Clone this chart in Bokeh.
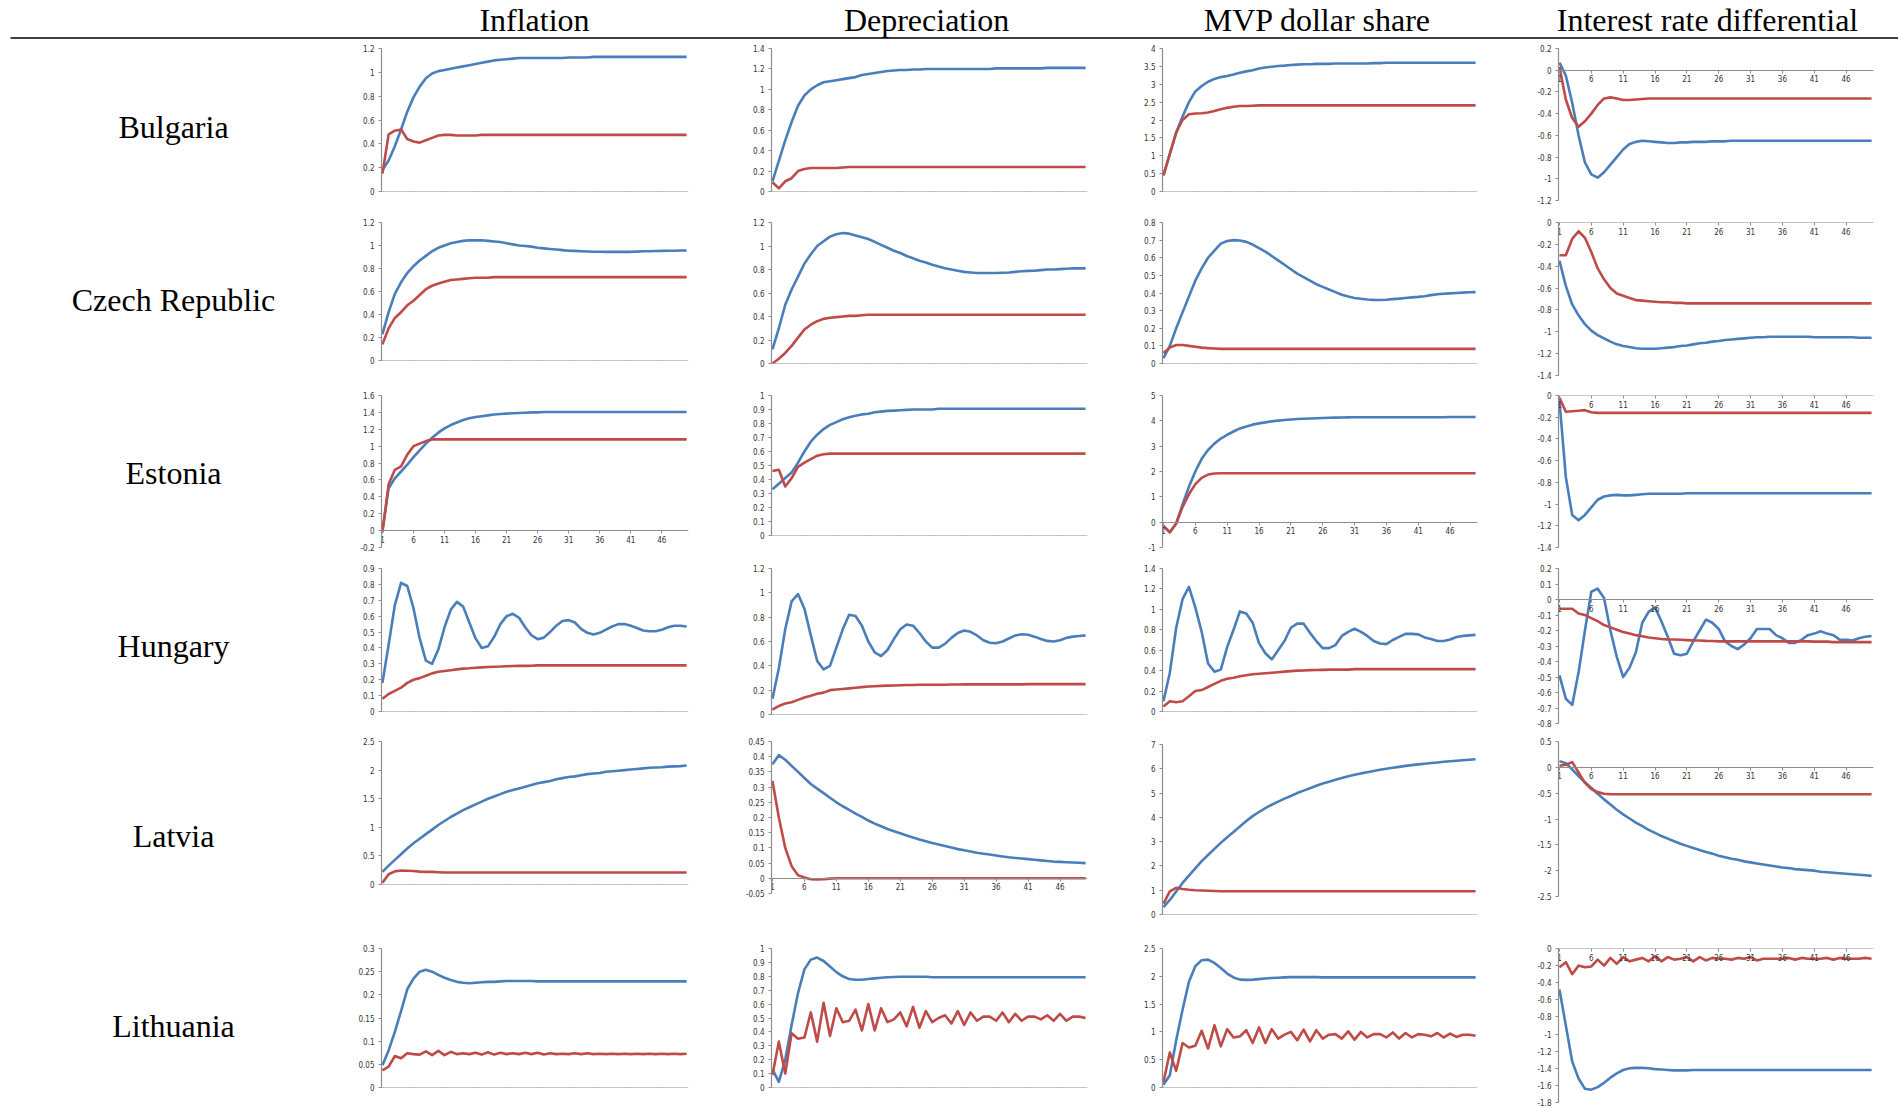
from bokeh.plotting import figure
from bokeh.layouts import column, row
from bokeh.models import Range1d, FixedTicker, CustomJSTickFormatter
from bokeh.core.properties import value
from bokeh.embed import file_html
from bokeh.resources import INLINE

COUNTRIES = ["Bulgaria", "Czech Republic", "Estonia", "Hungary", "Latvia", "Lithuania"]
VARIABLES = ["Inflation", "Depreciation", "MVP dollar share", "Interest rate differential"]
PERIODS = list(range(1, 51))
X_TICKS = [1, 6, 11, 16, 21, 26, 31, 36, 41, 46]

# y-axis limits and tick steps (rows: countries, columns: variables)
Y_MIN = [[0, 0, 0, -1.2], [0, 0, 0, -1.4], [-0.2, 0, -1, -1.4],
         [0, 0, 0, -0.8], [0, -0.05, 0, -2.5], [0, 0, 0, -1.8]]
Y_MAX = [[1.2, 1.4, 4, 0.2], [1.2, 1.2, 0.8, 0], [1.6, 1, 5, 0],
         [0.9, 1.2, 1.4, 0.2], [2.5, 0.45, 7, 0.5], [0.3, 1, 2.5, 0]]
Y_STEP = [[0.2, 0.2, 0.5, 0.2], [0.2, 0.2, 0.1, 0.2], [0.2, 0.1, 1, 0.2],
          [0.1, 0.2, 0.2, 0.1], [0.5, 0.05, 1, 0.5], [0.05, 0.1, 0.5, 0.2]]

# ---------------- Bulgaria ----------------
bulgaria_inflation_blue = [0.18, 0.26, 0.38, 0.52, 0.67, 0.79, 0.88, 0.95, 0.99, 1.01,
    1.02, 1.03, 1.04, 1.05, 1.06, 1.07, 1.08, 1.09, 1.10, 1.105,
    1.11, 1.115, 1.12, 1.12, 1.12, 1.12, 1.12, 1.12, 1.12, 1.12,
    1.125, 1.125, 1.125, 1.125, 1.13, 1.13, 1.13, 1.13, 1.13, 1.13,
    1.13, 1.13, 1.13, 1.13, 1.13, 1.13, 1.13, 1.13, 1.13, 1.13]
bulgaria_inflation_red = [0.15, 0.48, 0.51, 0.52, 0.44, 0.42, 0.41, 0.43, 0.45, 0.47,
    0.475, 0.475, 0.47, 0.47, 0.47, 0.47, 0.475, 0.475, 0.475, 0.475,
    0.475, 0.475, 0.475, 0.475, 0.475, 0.475, 0.475, 0.475, 0.475, 0.475,
    0.475, 0.475, 0.475, 0.475, 0.475, 0.475, 0.475, 0.475, 0.475, 0.475,
    0.475, 0.475, 0.475, 0.475, 0.475, 0.475, 0.475, 0.475, 0.475, 0.475]
bulgaria_depreciation_blue = [0.10, 0.30, 0.50, 0.68, 0.84, 0.94, 1.00, 1.04, 1.07, 1.08,
    1.09, 1.10, 1.11, 1.12, 1.14, 1.15, 1.16, 1.17, 1.18, 1.185,
    1.19, 1.19, 1.195, 1.195, 1.20, 1.20, 1.20, 1.20, 1.20, 1.20,
    1.20, 1.20, 1.20, 1.20, 1.20, 1.205, 1.205, 1.205, 1.205, 1.205,
    1.205, 1.205, 1.205, 1.21, 1.21, 1.21, 1.21, 1.21, 1.21, 1.21]
bulgaria_depreciation_red = [0.09, 0.03, 0.10, 0.13, 0.20, 0.22, 0.23, 0.23, 0.23, 0.23,
    0.23, 0.235, 0.24, 0.24, 0.24, 0.24, 0.24, 0.24, 0.24, 0.24,
    0.24, 0.24, 0.24, 0.24, 0.24, 0.24, 0.24, 0.24, 0.24, 0.24,
    0.24, 0.24, 0.24, 0.24, 0.24, 0.24, 0.24, 0.24, 0.24, 0.24,
    0.24, 0.24, 0.24, 0.24, 0.24, 0.24, 0.24, 0.24, 0.24, 0.24]
bulgaria_mvp_blue = [0.45, 1.05, 1.65, 2.10, 2.50, 2.80, 2.95, 3.07, 3.15, 3.20,
    3.23, 3.27, 3.32, 3.36, 3.39, 3.44, 3.47, 3.49, 3.51, 3.52,
    3.54, 3.55, 3.56, 3.56, 3.57, 3.57, 3.57, 3.58, 3.58, 3.58,
    3.58, 3.58, 3.58, 3.59, 3.59, 3.60, 3.60, 3.60, 3.60, 3.60,
    3.60, 3.60, 3.60, 3.60, 3.60, 3.60, 3.60, 3.60, 3.60, 3.60]
bulgaria_mvp_red = [0.45, 1.05, 1.65, 2.00, 2.16, 2.18, 2.19, 2.21, 2.25, 2.30,
    2.34, 2.37, 2.39, 2.39, 2.40, 2.41, 2.41, 2.41, 2.41, 2.41,
    2.41, 2.41, 2.41, 2.41, 2.41, 2.41, 2.41, 2.41, 2.41, 2.41,
    2.41, 2.41, 2.41, 2.41, 2.41, 2.41, 2.41, 2.41, 2.41, 2.41,
    2.41, 2.41, 2.41, 2.41, 2.41, 2.41, 2.41, 2.41, 2.41, 2.41]
bulgaria_ird_blue = [0.07, -0.05, -0.30, -0.60, -0.85, -0.96, -0.99, -0.94, -0.87, -0.80,
    -0.73, -0.68, -0.66, -0.65, -0.655, -0.66, -0.665, -0.67, -0.67, -0.665,
    -0.665, -0.66, -0.66, -0.66, -0.655, -0.655, -0.655, -0.65, -0.65, -0.65,
    -0.65, -0.65, -0.65, -0.65, -0.65, -0.65, -0.65, -0.65, -0.65, -0.65,
    -0.65, -0.65, -0.65, -0.65, -0.65, -0.65, -0.65, -0.65, -0.65, -0.65]
bulgaria_ird_red = [0.03, -0.27, -0.44, -0.52, -0.47, -0.40, -0.32, -0.26, -0.25, -0.26,
    -0.275, -0.275, -0.27, -0.265, -0.26, -0.26, -0.26, -0.26, -0.26, -0.26,
    -0.26, -0.26, -0.26, -0.26, -0.26, -0.26, -0.26, -0.26, -0.26, -0.26,
    -0.26, -0.26, -0.26, -0.26, -0.26, -0.26, -0.26, -0.26, -0.26, -0.26,
    -0.26, -0.26, -0.26, -0.26, -0.26, -0.26, -0.26, -0.26, -0.26, -0.26]

# ---------------- Czech Republic ----------------
czech_inflation_blue = [0.23, 0.42, 0.58, 0.68, 0.76, 0.82, 0.87, 0.91, 0.95, 0.98,
    1.00, 1.02, 1.03, 1.04, 1.045, 1.045, 1.045, 1.04, 1.035, 1.03,
    1.02, 1.01, 1.00, 0.995, 0.99, 0.98, 0.975, 0.97, 0.965, 0.96,
    0.955, 0.953, 0.95, 0.948, 0.946, 0.945, 0.945, 0.945, 0.945, 0.945,
    0.945, 0.947, 0.95, 0.95, 0.952, 0.953, 0.955, 0.955, 0.957, 0.957]
czech_inflation_red = [0.14, 0.28, 0.37, 0.42, 0.48, 0.52, 0.57, 0.62, 0.65, 0.67,
    0.685, 0.70, 0.705, 0.71, 0.715, 0.72, 0.72, 0.72, 0.725, 0.725,
    0.725, 0.725, 0.725, 0.725, 0.725, 0.725, 0.725, 0.725, 0.725, 0.725,
    0.725, 0.725, 0.725, 0.725, 0.725, 0.725, 0.725, 0.725, 0.725, 0.725,
    0.725, 0.725, 0.725, 0.725, 0.725, 0.725, 0.725, 0.725, 0.725, 0.725]
czech_depreciation_blue = [0.12, 0.30, 0.50, 0.63, 0.74, 0.85, 0.93, 1.00, 1.04, 1.08,
    1.10, 1.11, 1.105, 1.09, 1.075, 1.06, 1.035, 1.01, 0.985, 0.96,
    0.94, 0.915, 0.895, 0.875, 0.86, 0.84, 0.825, 0.81, 0.80, 0.79,
    0.78, 0.775, 0.77, 0.77, 0.77, 0.77, 0.772, 0.775, 0.78, 0.785,
    0.788, 0.79, 0.795, 0.80, 0.80, 0.803, 0.806, 0.81, 0.81, 0.81]
czech_depreciation_red = [0.00, 0.04, 0.09, 0.15, 0.22, 0.29, 0.33, 0.36, 0.38, 0.39,
    0.395, 0.40, 0.405, 0.405, 0.41, 0.415, 0.415, 0.415, 0.415, 0.415,
    0.415, 0.415, 0.415, 0.415, 0.415, 0.415, 0.415, 0.415, 0.415, 0.415,
    0.415, 0.415, 0.415, 0.415, 0.415, 0.415, 0.415, 0.415, 0.415, 0.415,
    0.415, 0.415, 0.415, 0.415, 0.415, 0.415, 0.415, 0.415, 0.415, 0.415]
czech_mvp_blue = [0.03, 0.10, 0.20, 0.29, 0.38, 0.47, 0.54, 0.60, 0.64, 0.68,
    0.695, 0.70, 0.698, 0.69, 0.675, 0.655, 0.635, 0.61, 0.585, 0.56,
    0.535, 0.51, 0.49, 0.47, 0.45, 0.435, 0.42, 0.405, 0.39, 0.38,
    0.372, 0.367, 0.363, 0.361, 0.36, 0.362, 0.365, 0.368, 0.372, 0.375,
    0.378, 0.382, 0.388, 0.393, 0.396, 0.398, 0.40, 0.402, 0.404, 0.405]
czech_mvp_red = [0.06, 0.09, 0.105, 0.105, 0.10, 0.095, 0.09, 0.087, 0.085, 0.083,
    0.083, 0.083, 0.083, 0.083, 0.083, 0.083, 0.083, 0.083, 0.083, 0.083,
    0.083, 0.083, 0.083, 0.083, 0.083, 0.083, 0.083, 0.083, 0.083, 0.083,
    0.083, 0.083, 0.083, 0.083, 0.083, 0.083, 0.083, 0.083, 0.083, 0.083,
    0.083, 0.083, 0.083, 0.083, 0.083, 0.083, 0.083, 0.083, 0.083, 0.083]
czech_ird_blue = [-0.35, -0.58, -0.75, -0.85, -0.93, -0.99, -1.03, -1.06, -1.09, -1.115,
    -1.13, -1.14, -1.15, -1.155, -1.155, -1.155, -1.15, -1.145, -1.14, -1.13,
    -1.125, -1.115, -1.105, -1.10, -1.09, -1.085, -1.075, -1.07, -1.065, -1.06,
    -1.055, -1.05, -1.05, -1.045, -1.045, -1.045, -1.045, -1.045, -1.045, -1.045,
    -1.05, -1.05, -1.05, -1.05, -1.05, -1.05, -1.05, -1.055, -1.055, -1.055]
czech_ird_red = [-0.30, -0.30, -0.15, -0.08, -0.14, -0.27, -0.42, -0.52, -0.60, -0.65,
    -0.67, -0.69, -0.71, -0.715, -0.72, -0.725, -0.73, -0.73, -0.735, -0.735,
    -0.74, -0.74, -0.74, -0.74, -0.74, -0.74, -0.74, -0.74, -0.74, -0.74,
    -0.74, -0.74, -0.74, -0.74, -0.74, -0.74, -0.74, -0.74, -0.74, -0.74,
    -0.74, -0.74, -0.74, -0.74, -0.74, -0.74, -0.74, -0.74, -0.74, -0.74]

# ---------------- Estonia ----------------
estonia_inflation_blue = [0.00, 0.50, 0.62, 0.70, 0.78, 0.87, 0.95, 1.03, 1.10, 1.16,
    1.21, 1.25, 1.28, 1.31, 1.33, 1.345, 1.355, 1.365, 1.375, 1.38,
    1.385, 1.39, 1.393, 1.396, 1.40, 1.40, 1.405, 1.405, 1.405, 1.405,
    1.405, 1.405, 1.405, 1.405, 1.405, 1.405, 1.405, 1.405, 1.405, 1.405,
    1.405, 1.405, 1.405, 1.405, 1.405, 1.405, 1.405, 1.405, 1.405, 1.405]
estonia_inflation_red = [-0.02, 0.55, 0.72, 0.76, 0.90, 1.00, 1.03, 1.06, 1.08, 1.08,
    1.08, 1.08, 1.08, 1.08, 1.08, 1.08, 1.08, 1.08, 1.08, 1.08,
    1.08, 1.08, 1.08, 1.08, 1.08, 1.08, 1.08, 1.08, 1.08, 1.08,
    1.08, 1.08, 1.08, 1.08, 1.08, 1.08, 1.08, 1.08, 1.08, 1.08,
    1.08, 1.08, 1.08, 1.08, 1.08, 1.08, 1.08, 1.08, 1.08, 1.08]
estonia_depreciation_blue = [0.33, 0.37, 0.41, 0.45, 0.52, 0.60, 0.67, 0.72, 0.76, 0.79,
    0.81, 0.83, 0.845, 0.855, 0.865, 0.87, 0.88, 0.885, 0.89, 0.892,
    0.895, 0.897, 0.90, 0.90, 0.90, 0.90, 0.905, 0.905, 0.905, 0.905,
    0.905, 0.905, 0.905, 0.905, 0.905, 0.905, 0.905, 0.905, 0.905, 0.905,
    0.905, 0.905, 0.905, 0.905, 0.905, 0.905, 0.905, 0.905, 0.905, 0.905]
estonia_depreciation_red = [0.46, 0.47, 0.35, 0.41, 0.49, 0.52, 0.545, 0.57, 0.58, 0.585,
    0.585, 0.585, 0.585, 0.585, 0.585, 0.585, 0.585, 0.585, 0.585, 0.585,
    0.585, 0.585, 0.585, 0.585, 0.585, 0.585, 0.585, 0.585, 0.585, 0.585,
    0.585, 0.585, 0.585, 0.585, 0.585, 0.585, 0.585, 0.585, 0.585, 0.585,
    0.585, 0.585, 0.585, 0.585, 0.585, 0.585, 0.585, 0.585, 0.585, 0.585]
estonia_mvp_blue = [-0.15, -0.40, -0.05, 0.70, 1.40, 2.00, 2.50, 2.85, 3.10, 3.30,
    3.45, 3.58, 3.70, 3.78, 3.85, 3.90, 3.94, 3.98, 4.01, 4.03,
    4.05, 4.07, 4.08, 4.09, 4.10, 4.11, 4.12, 4.125, 4.13, 4.135,
    4.14, 4.14, 4.14, 4.14, 4.14, 4.14, 4.14, 4.14, 4.14, 4.14,
    4.14, 4.14, 4.14, 4.14, 4.14, 4.15, 4.15, 4.15, 4.15, 4.15]
estonia_mvp_red = [-0.15, -0.40, -0.05, 0.60, 1.10, 1.50, 1.75, 1.88, 1.92, 1.93,
    1.93, 1.93, 1.93, 1.93, 1.93, 1.93, 1.93, 1.93, 1.93, 1.93,
    1.93, 1.93, 1.93, 1.93, 1.93, 1.93, 1.93, 1.93, 1.93, 1.93,
    1.93, 1.93, 1.93, 1.93, 1.93, 1.93, 1.93, 1.93, 1.93, 1.93,
    1.93, 1.93, 1.93, 1.93, 1.93, 1.93, 1.93, 1.93, 1.93, 1.93]
estonia_ird_blue = [-0.05, -0.75, -1.10, -1.15, -1.10, -1.03, -0.96, -0.93, -0.92, -0.915,
    -0.92, -0.92, -0.915, -0.91, -0.905, -0.905, -0.905, -0.905, -0.905, -0.905,
    -0.90, -0.90, -0.90, -0.90, -0.90, -0.90, -0.90, -0.90, -0.90, -0.90,
    -0.90, -0.90, -0.90, -0.90, -0.90, -0.90, -0.90, -0.90, -0.90, -0.90,
    -0.90, -0.90, -0.90, -0.90, -0.90, -0.90, -0.90, -0.90, -0.90, -0.90]
estonia_ird_red = [-0.02, -0.15, -0.145, -0.14, -0.135, -0.155, -0.16, -0.16, -0.16, -0.16,
    -0.16, -0.16, -0.16, -0.16, -0.16, -0.16, -0.16, -0.16, -0.16, -0.16,
    -0.16, -0.16, -0.16, -0.16, -0.16, -0.16, -0.16, -0.16, -0.16, -0.16,
    -0.16, -0.16, -0.16, -0.16, -0.16, -0.16, -0.16, -0.16, -0.16, -0.16,
    -0.16, -0.16, -0.16, -0.16, -0.16, -0.16, -0.16, -0.16, -0.16, -0.16]

# ---------------- Hungary ----------------
hungary_inflation_blue = [0.18, 0.42, 0.67, 0.81, 0.79, 0.65, 0.46, 0.32, 0.30, 0.39,
    0.53, 0.64, 0.69, 0.66, 0.56, 0.46, 0.40, 0.41, 0.47, 0.55,
    0.60, 0.615, 0.59, 0.53, 0.48, 0.455, 0.465, 0.50, 0.54, 0.57,
    0.575, 0.56, 0.52, 0.495, 0.485, 0.495, 0.515, 0.535, 0.55, 0.55,
    0.54, 0.525, 0.51, 0.505, 0.505, 0.515, 0.53, 0.54, 0.54, 0.535]
hungary_inflation_red = [0.08, 0.11, 0.13, 0.15, 0.18, 0.20, 0.21, 0.225, 0.24, 0.25,
    0.255, 0.26, 0.265, 0.27, 0.272, 0.275, 0.278, 0.28, 0.282, 0.283,
    0.285, 0.286, 0.287, 0.287, 0.288, 0.29, 0.29, 0.29, 0.29, 0.29,
    0.29, 0.29, 0.29, 0.29, 0.29, 0.29, 0.29, 0.29, 0.29, 0.29,
    0.29, 0.29, 0.29, 0.29, 0.29, 0.29, 0.29, 0.29, 0.29, 0.29]
hungary_depreciation_blue = [0.13, 0.38, 0.70, 0.93, 0.99, 0.87, 0.65, 0.44, 0.37, 0.40,
    0.55, 0.70, 0.82, 0.81, 0.73, 0.60, 0.51, 0.48, 0.53, 0.62,
    0.70, 0.74, 0.73, 0.67, 0.60, 0.55, 0.55, 0.58, 0.63, 0.67,
    0.69, 0.68, 0.65, 0.61, 0.59, 0.585, 0.60, 0.625, 0.65, 0.66,
    0.655, 0.64, 0.62, 0.605, 0.60, 0.61, 0.63, 0.64, 0.645, 0.65]
hungary_depreciation_red = [0.04, 0.07, 0.09, 0.10, 0.12, 0.14, 0.155, 0.17, 0.18, 0.20,
    0.205, 0.21, 0.215, 0.22, 0.225, 0.23, 0.232, 0.235, 0.237, 0.238,
    0.24, 0.242, 0.243, 0.244, 0.245, 0.245, 0.245, 0.245, 0.247, 0.247,
    0.248, 0.248, 0.248, 0.248, 0.248, 0.248, 0.248, 0.248, 0.248, 0.248,
    0.25, 0.25, 0.25, 0.25, 0.25, 0.25, 0.25, 0.25, 0.25, 0.25]
hungary_mvp_blue = [0.10, 0.38, 0.82, 1.10, 1.22, 1.02, 0.78, 0.47, 0.39, 0.41,
    0.63, 0.80, 0.98, 0.96, 0.87, 0.67, 0.57, 0.51, 0.60, 0.69,
    0.82, 0.86, 0.86, 0.77, 0.69, 0.62, 0.62, 0.65, 0.74, 0.78,
    0.81, 0.78, 0.74, 0.69, 0.665, 0.66, 0.70, 0.73, 0.76, 0.76,
    0.755, 0.725, 0.71, 0.69, 0.69, 0.705, 0.73, 0.74, 0.745, 0.75]
hungary_mvp_red = [0.05, 0.10, 0.09, 0.10, 0.15, 0.20, 0.21, 0.24, 0.27, 0.30,
    0.32, 0.33, 0.345, 0.355, 0.365, 0.37, 0.375, 0.38, 0.385, 0.39,
    0.395, 0.40, 0.402, 0.405, 0.407, 0.408, 0.41, 0.41, 0.41, 0.41,
    0.415, 0.415, 0.415, 0.415, 0.415, 0.415, 0.415, 0.415, 0.415, 0.415,
    0.415, 0.415, 0.415, 0.415, 0.415, 0.415, 0.415, 0.415, 0.415, 0.415]
hungary_ird_blue = [-0.49, -0.64, -0.68, -0.47, -0.20, 0.05, 0.07, 0.01, -0.20, -0.37,
    -0.50, -0.44, -0.34, -0.15, -0.08, -0.05, -0.14, -0.24, -0.35, -0.36,
    -0.35, -0.27, -0.20, -0.13, -0.15, -0.19, -0.27, -0.30, -0.32, -0.29,
    -0.25, -0.19, -0.19, -0.19, -0.23, -0.25, -0.28, -0.28, -0.26, -0.23,
    -0.22, -0.205, -0.22, -0.23, -0.26, -0.26, -0.265, -0.25, -0.24, -0.235]
hungary_ird_red = [-0.06, -0.06, -0.06, -0.09, -0.10, -0.12, -0.14, -0.165, -0.18, -0.195,
    -0.21, -0.22, -0.23, -0.237, -0.245, -0.25, -0.255, -0.257, -0.258, -0.26,
    -0.262, -0.264, -0.265, -0.267, -0.268, -0.27, -0.27, -0.27, -0.27, -0.27,
    -0.27, -0.27, -0.27, -0.27, -0.27, -0.27, -0.27, -0.27, -0.27, -0.27,
    -0.272, -0.272, -0.272, -0.275, -0.275, -0.275, -0.275, -0.275, -0.275, -0.275]

# ---------------- Latvia ----------------
latvia_inflation_blue = [0.22, 0.33, 0.43, 0.53, 0.63, 0.72, 0.80, 0.88, 0.96, 1.04,
    1.11, 1.18, 1.24, 1.30, 1.35, 1.40, 1.45, 1.50, 1.54, 1.58,
    1.62, 1.65, 1.68, 1.71, 1.74, 1.77, 1.79, 1.81, 1.84, 1.86,
    1.88, 1.89, 1.91, 1.93, 1.94, 1.95, 1.97, 1.98, 1.99, 2.00,
    2.01, 2.02, 2.03, 2.04, 2.045, 2.05, 2.06, 2.065, 2.07, 2.08]
latvia_inflation_red = [0.03, 0.18, 0.23, 0.245, 0.24, 0.235, 0.225, 0.22, 0.22, 0.215,
    0.21, 0.21, 0.21, 0.21, 0.21, 0.21, 0.21, 0.21, 0.21, 0.21,
    0.21, 0.21, 0.21, 0.21, 0.21, 0.21, 0.21, 0.21, 0.21, 0.21,
    0.21, 0.21, 0.21, 0.21, 0.21, 0.21, 0.21, 0.21, 0.21, 0.21,
    0.21, 0.21, 0.21, 0.21, 0.21, 0.21, 0.21, 0.21, 0.21, 0.21]
latvia_depreciation_blue = [0.375, 0.405, 0.39, 0.37, 0.35, 0.33, 0.31, 0.295, 0.28, 0.265,
    0.25, 0.237, 0.225, 0.213, 0.202, 0.19, 0.18, 0.171, 0.162, 0.155,
    0.148, 0.141, 0.134, 0.128, 0.122, 0.116, 0.111, 0.106, 0.101, 0.096,
    0.092, 0.088, 0.084, 0.081, 0.078, 0.075, 0.072, 0.069, 0.067, 0.065,
    0.063, 0.061, 0.059, 0.057, 0.055, 0.054, 0.053, 0.052, 0.051, 0.050]
latvia_depreciation_red = [0.32, 0.20, 0.10, 0.04, 0.01, 0.003, -0.003, -0.004, -0.003, -0.001,
    0.0, 0.0, 0.0, 0.0, 0.0, 0.0, 0.0, 0.0, 0.0, 0.0,
    0.0, 0.0, 0.0, 0.0, 0.0, 0.0, 0.0, 0.0, 0.0, 0.0,
    0.0, 0.0, 0.0, 0.0, 0.0, 0.0, 0.0, 0.0, 0.0, 0.0,
    0.0, 0.0, 0.0, 0.0, 0.0, 0.0, 0.0, 0.0, 0.0, 0.0]
latvia_mvp_blue = [0.30, 0.60, 0.95, 1.30, 1.60, 1.90, 2.20, 2.45, 2.70, 2.95,
    3.18, 3.40, 3.62, 3.85, 4.05, 4.22, 4.38, 4.52, 4.65, 4.77,
    4.88, 5.00, 5.10, 5.20, 5.30, 5.39, 5.47, 5.55, 5.62, 5.69,
    5.75, 5.81, 5.86, 5.91, 5.96, 6.00, 6.04, 6.08, 6.12, 6.15,
    6.18, 6.21, 6.24, 6.26, 6.29, 6.31, 6.33, 6.35, 6.37, 6.39]
latvia_mvp_red = [0.45, 0.95, 1.10, 1.05, 1.02, 1.00, 0.99, 0.98, 0.97, 0.96,
    0.96, 0.96, 0.96, 0.96, 0.96, 0.96, 0.96, 0.96, 0.96, 0.96,
    0.96, 0.96, 0.96, 0.96, 0.96, 0.96, 0.96, 0.96, 0.96, 0.96,
    0.96, 0.96, 0.96, 0.96, 0.96, 0.96, 0.96, 0.96, 0.96, 0.96,
    0.96, 0.96, 0.96, 0.96, 0.96, 0.96, 0.96, 0.96, 0.96, 0.96]
latvia_ird_blue = [0.12, 0.08, -0.04, -0.17, -0.29, -0.40, -0.51, -0.62, -0.72, -0.82,
    -0.91, -0.99, -1.07, -1.14, -1.21, -1.27, -1.33, -1.38, -1.43, -1.48,
    -1.52, -1.56, -1.60, -1.64, -1.67, -1.71, -1.74, -1.77, -1.79, -1.82,
    -1.84, -1.86, -1.88, -1.90, -1.92, -1.94, -1.95, -1.97, -1.98, -1.99,
    -2.00, -2.02, -2.03, -2.04, -2.05, -2.06, -2.07, -2.08, -2.09, -2.10]
latvia_ird_red = [0.03, 0.05, 0.10, -0.10, -0.30, -0.42, -0.48, -0.51, -0.52, -0.52,
    -0.52, -0.52, -0.52, -0.52, -0.52, -0.52, -0.52, -0.52, -0.52, -0.52,
    -0.52, -0.52, -0.52, -0.52, -0.52, -0.52, -0.52, -0.52, -0.52, -0.52,
    -0.52, -0.52, -0.52, -0.52, -0.52, -0.52, -0.52, -0.52, -0.52, -0.52,
    -0.52, -0.52, -0.52, -0.52, -0.52, -0.52, -0.52, -0.52, -0.52, -0.52]

# ---------------- Lithuania ----------------
lithuania_inflation_blue = [0.048, 0.08, 0.12, 0.165, 0.212, 0.235, 0.25, 0.254, 0.25, 0.243,
    0.237, 0.232, 0.228, 0.226, 0.225, 0.226, 0.227, 0.228, 0.228, 0.229,
    0.23, 0.23, 0.23, 0.23, 0.23, 0.229, 0.229, 0.229, 0.229, 0.229,
    0.229, 0.229, 0.229, 0.229, 0.229, 0.229, 0.229, 0.229, 0.229, 0.229,
    0.229, 0.229, 0.229, 0.229, 0.229, 0.229, 0.229, 0.229, 0.229, 0.229]
lithuania_inflation_red = [0.037, 0.045, 0.068, 0.063, 0.074, 0.072, 0.071, 0.078, 0.070, 0.079,
    0.070, 0.077, 0.072, 0.074, 0.072, 0.075, 0.071, 0.076, 0.071, 0.075,
    0.072, 0.074, 0.072, 0.075, 0.072, 0.075, 0.071, 0.074, 0.072, 0.073,
    0.072, 0.074, 0.072, 0.074, 0.072, 0.073, 0.072, 0.073, 0.072, 0.073,
    0.072, 0.073, 0.072, 0.073, 0.072, 0.073, 0.072, 0.073, 0.072, 0.073]
lithuania_depreciation_blue = [0.13, 0.04, 0.20, 0.45, 0.68, 0.85, 0.92, 0.935, 0.91, 0.87,
    0.83, 0.80, 0.78, 0.775, 0.775, 0.78, 0.785, 0.79, 0.793, 0.795,
    0.797, 0.797, 0.797, 0.797, 0.797, 0.793, 0.793, 0.793, 0.793, 0.793,
    0.793, 0.793, 0.793, 0.793, 0.793, 0.793, 0.793, 0.793, 0.793, 0.793,
    0.793, 0.793, 0.793, 0.793, 0.793, 0.793, 0.793, 0.793, 0.793, 0.793]
lithuania_depreciation_red = [0.09, 0.33, 0.10, 0.39, 0.35, 0.36, 0.54, 0.33, 0.61, 0.37,
    0.57, 0.47, 0.48, 0.56, 0.41, 0.60, 0.41, 0.57, 0.47, 0.49,
    0.54, 0.44, 0.58, 0.43, 0.55, 0.47, 0.50, 0.52, 0.46, 0.55,
    0.45, 0.54, 0.48, 0.51, 0.51, 0.48, 0.54, 0.47, 0.53, 0.48,
    0.51, 0.51, 0.49, 0.52, 0.48, 0.53, 0.48, 0.51, 0.51, 0.50]
lithuania_mvp_blue = [0.05, 0.22, 0.85, 1.40, 1.90, 2.18, 2.29, 2.30, 2.24, 2.15,
    2.05, 1.98, 1.94, 1.935, 1.94, 1.95, 1.96, 1.97, 1.975, 1.98,
    1.985, 1.985, 1.985, 1.985, 1.985, 1.98, 1.98, 1.98, 1.98, 1.98,
    1.98, 1.98, 1.98, 1.98, 1.98, 1.98, 1.98, 1.98, 1.98, 1.98,
    1.98, 1.98, 1.98, 1.98, 1.98, 1.98, 1.98, 1.98, 1.98, 1.98]
lithuania_mvp_red = [0.10, 0.63, 0.30, 0.80, 0.72, 0.75, 1.02, 0.70, 1.12, 0.74,
    1.05, 0.90, 0.92, 1.03, 0.80, 1.08, 0.80, 1.05, 0.88, 0.95,
    1.00, 0.85, 1.04, 0.83, 1.03, 0.88, 0.95, 0.96, 0.88, 1.01,
    0.86, 1.00, 0.90, 0.96, 0.96, 0.90, 0.99, 0.88, 0.98, 0.90,
    0.96, 0.95, 0.92, 0.98, 0.90, 0.97, 0.91, 0.95, 0.95, 0.93]
lithuania_ird_blue = [-0.48, -0.90, -1.32, -1.52, -1.64, -1.65, -1.62, -1.57, -1.51, -1.46,
    -1.42, -1.40, -1.395, -1.395, -1.40, -1.41, -1.415, -1.42, -1.425, -1.425,
    -1.425, -1.42, -1.42, -1.42, -1.42, -1.42, -1.42, -1.42, -1.42, -1.42,
    -1.42, -1.42, -1.42, -1.42, -1.42, -1.42, -1.42, -1.42, -1.42, -1.42,
    -1.42, -1.42, -1.42, -1.42, -1.42, -1.42, -1.42, -1.42, -1.42, -1.42]
lithuania_ird_red = [-0.22, -0.16, -0.30, -0.20, -0.22, -0.21, -0.13, -0.20, -0.11, -0.18,
    -0.10, -0.15, -0.13, -0.11, -0.15, -0.09, -0.15, -0.10, -0.13, -0.12,
    -0.10, -0.15, -0.10, -0.14, -0.11, -0.12, -0.12, -0.13, -0.11, -0.12,
    -0.10, -0.14, -0.12, -0.12, -0.12, -0.12, -0.11, -0.13, -0.11, -0.12,
    -0.12, -0.12, -0.11, -0.13, -0.11, -0.12, -0.12, -0.12, -0.11, -0.12]

SERIES = [
    [(bulgaria_inflation_blue, bulgaria_inflation_red), (bulgaria_depreciation_blue, bulgaria_depreciation_red),
     (bulgaria_mvp_blue, bulgaria_mvp_red), (bulgaria_ird_blue, bulgaria_ird_red)],
    [(czech_inflation_blue, czech_inflation_red), (czech_depreciation_blue, czech_depreciation_red),
     (czech_mvp_blue, czech_mvp_red), (czech_ird_blue, czech_ird_red)],
    [(estonia_inflation_blue, estonia_inflation_red), (estonia_depreciation_blue, estonia_depreciation_red),
     (estonia_mvp_blue, estonia_mvp_red), (estonia_ird_blue, estonia_ird_red)],
    [(hungary_inflation_blue, hungary_inflation_red), (hungary_depreciation_blue, hungary_depreciation_red),
     (hungary_mvp_blue, hungary_mvp_red), (hungary_ird_blue, hungary_ird_red)],
    [(latvia_inflation_blue, latvia_inflation_red), (latvia_depreciation_blue, latvia_depreciation_red),
     (latvia_mvp_blue, latvia_mvp_red), (latvia_ird_blue, latvia_ird_red)],
    [(lithuania_inflation_blue, lithuania_inflation_red), (lithuania_depreciation_blue, lithuania_depreciation_red),
     (lithuania_mvp_blue, lithuania_mvp_red), (lithuania_ird_blue, lithuania_ird_red)],
]

# ---------------- layout (pixels) ----------------
W, H = 1898, 1107
HEADER_H = 42
LABEL_W = 330
FIG_X = [330, 725, 1120, 1515, 1898]
COL_LEFT = [381, 771, 1162, 1558]
COL_RIGHT = [688, 1087, 1477, 1873]
ROW_BANDS = [(42, 216), (216, 389), (389, 562), (562, 735), (735, 942), (942, 1107)]
FRAME_TOP = [[48, 48, 48, 48], [222, 222, 222, 222], [395, 395, 395, 395],
             [568, 568, 568, 568], [741, 741, 744, 741], [948, 948, 948, 948]]
FRAME_BOTTOM = [[191, 191, 191, 200], [360, 363, 363, 375], [547, 535, 547, 547],
                [711, 714, 711, 723], [884, 893, 914, 896], [1087, 1087, 1087, 1102]]
TITLE_X = [534, 926, 1317, 1707]
TITLE_Y = 19
LABEL_X = 173
LABEL_Y = [126, 299, 472, 645, 835, 1025]

BLUE = "#4A7EBB"
RED = "#BE4B48"
AXIS = "#8C8C8C"
TICK_TEXT = "#333333"
TICK_FONT = "'Liberation Sans Narrow', 'DejaVu Sans Condensed', 'Liberation Sans', sans-serif"
SERIF = "Liberation Serif"

fmt = CustomJSTickFormatter(code="return String(Number(tick.toFixed(4)));")


def panel(r, c):
    blue, red = SERIES[r][c]
    y0, y1 = ROW_BANDS[r]
    ymin, ymax, step = Y_MIN[r][c], Y_MAX[r][c], Y_STEP[r][c]
    n = int(round((ymax - ymin) / step))
    yticks = [round(ymin + i * step, 4) for i in range(n + 1)]
    p = figure(width=FIG_X[c + 1] - FIG_X[c], height=y1 - y0,
               x_range=Range1d(0.85, 50.3), y_range=Range1d(ymin, ymax),
               output_backend="svg", toolbar_location=None, title=None,
               min_border_left=COL_LEFT[c] - FIG_X[c],
               min_border_right=FIG_X[c + 1] - COL_RIGHT[c],
               min_border_top=FRAME_TOP[r][c] - y0,
               min_border_bottom=y1 - FRAME_BOTTOM[r][c])
    p.frame_align = False
    p.outline_line_color = None
    p.grid.visible = False
    p.background_fill_color = "white"
    p.border_fill_color = "white"
    p.line(PERIODS, blue, line_color=BLUE, line_width=2.6, line_join="round")
    p.line(PERIODS, red, line_color=RED, line_width=2.6, line_join="round")

    xa = p.xaxis[0]
    xa.fixed_location = 0
    xa.ticker = FixedTicker(ticks=X_TICKS)
    xa.axis_line_color = AXIS
    xa.axis_line_width = 1.2
    xa.major_tick_line_color = AXIS
    xa.major_tick_in = 0
    xa.major_tick_out = 3
    xa.minor_tick_line_color = None
    xa.major_label_standoff = 2
    xa.major_label_text_font = TICK_FONT
    xa.major_label_text_font_size = "8px"
    xa.major_label_text_color = TICK_TEXT

    ya = p.yaxis[0]
    ya.ticker = FixedTicker(ticks=yticks)
    ya.formatter = fmt
    ya.axis_line_color = AXIS
    ya.axis_line_width = 1.2
    ya.major_tick_line_color = AXIS
    ya.major_tick_in = 0
    ya.major_tick_out = 3
    ya.minor_tick_line_color = None
    ya.major_label_standoff = 4
    ya.major_label_text_font = TICK_FONT
    ya.major_label_text_font_size = "8px"
    ya.major_label_text_color = TICK_TEXT
    return p


# header with column titles and rule
header = figure(width=W, height=HEADER_H, x_range=Range1d(0, W), y_range=Range1d(HEADER_H, 0),
                output_backend="svg", toolbar_location=None, title=None,
                min_border=0, min_border_left=0, min_border_right=0,
                min_border_top=0, min_border_bottom=0)
header.frame_align = False
header.axis.visible = False
header.grid.visible = False
header.outline_line_color = None
header.text(x=TITLE_X, y=[TITLE_Y] * 4, text=VARIABLES, text_align="center",
            text_baseline="middle", text_font=value(SERIF), text_font_size="32px",
            text_color="black")
header.segment(x0=[10], y0=[37.5], x1=[W], y1=[37.5], line_color="black", line_width=1.5)

# row labels
labels = figure(width=LABEL_W, height=H - HEADER_H, x_range=Range1d(0, LABEL_W),
                y_range=Range1d(H, HEADER_H), output_backend="svg", toolbar_location=None,
                title=None, min_border=0, min_border_left=0, min_border_right=0,
                min_border_top=0, min_border_bottom=0)
labels.frame_align = False
labels.axis.visible = False
labels.grid.visible = False
labels.outline_line_color = None
labels.text(x=[LABEL_X] * len(COUNTRIES), y=LABEL_Y, text=COUNTRIES, text_align="center",
            text_baseline="middle", text_font=value(SERIF), text_font_size="32px",
            text_color="black")

rows = [row(*[panel(r, c) for c in range(4)]) for r in range(6)]
layout = column(header, row(labels, column(*rows)))

open("out.html", "w").write(file_html(layout, INLINE))
